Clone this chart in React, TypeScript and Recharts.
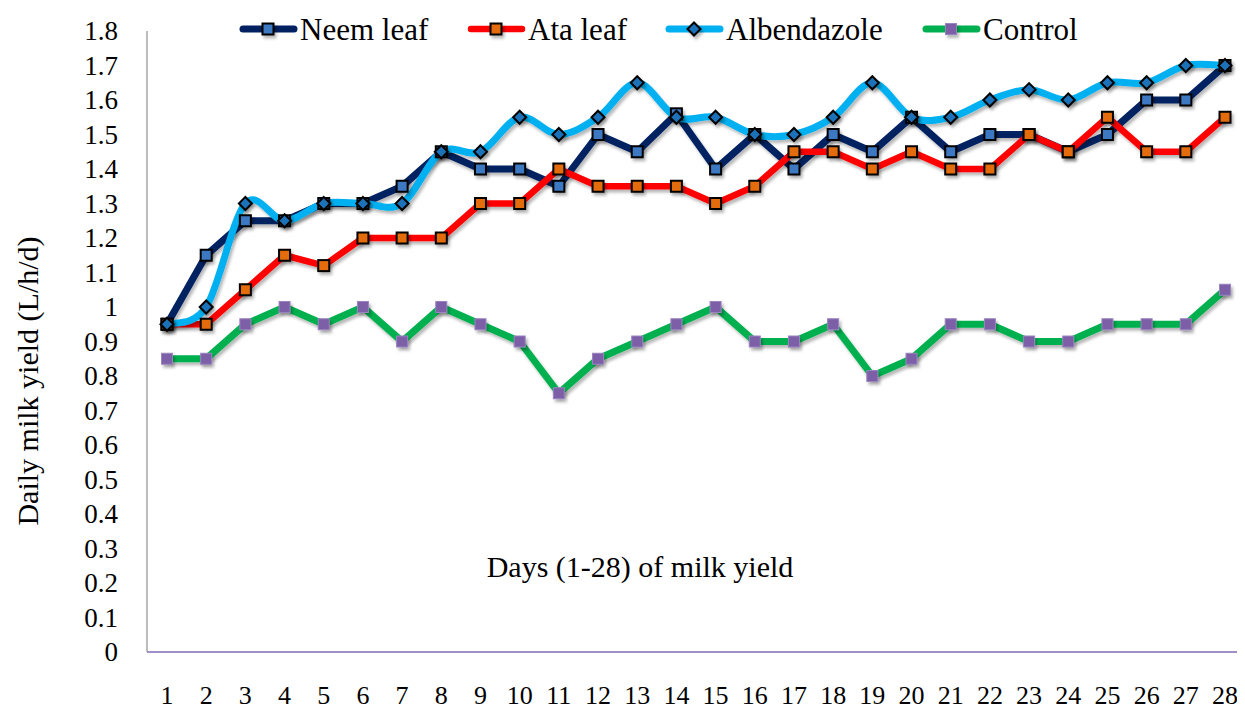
import { LineChart, Line, XAxis, YAxis } from "recharts";

const days = ["1", "2", "3", "4", "5", "6", "7", "8", "9", "10", "11", "12", "13", "14",
  "15", "16", "17", "18", "19", "20", "21", "22", "23", "24", "25", "26", "27", "28"];

const neemLeaf = [0.95, 1.15, 1.25, 1.25, 1.3, 1.3, 1.35, 1.45, 1.4, 1.4, 1.35, 1.5, 1.45, 1.56,
  1.4, 1.5, 1.4, 1.5, 1.45, 1.55, 1.45, 1.5, 1.5, 1.45, 1.5, 1.6, 1.6, 1.7];
const ataLeaf = [0.95, 0.95, 1.05, 1.15, 1.12, 1.2, 1.2, 1.2, 1.3, 1.3, 1.4, 1.35, 1.35, 1.35,
  1.3, 1.35, 1.45, 1.45, 1.4, 1.45, 1.4, 1.4, 1.5, 1.45, 1.55, 1.45, 1.45, 1.55];
const albendazole = [0.95, 1.0, 1.3, 1.25, 1.3, 1.3, 1.3, 1.45, 1.45, 1.55, 1.5, 1.55, 1.65, 1.55,
  1.55, 1.5, 1.5, 1.55, 1.65, 1.55, 1.55, 1.6, 1.63, 1.6, 1.65, 1.65, 1.7, 1.7];
const control = [0.85, 0.85, 0.95, 1.0, 0.95, 1.0, 0.9, 1.0, 0.95, 0.9, 0.75, 0.85, 0.9, 0.95,
  1.0, 0.9, 0.9, 0.95, 0.8, 0.85, 0.95, 0.95, 0.9, 0.9, 0.95, 0.95, 0.95, 1.05];

const yTicks = [0, 0.1, 0.2, 0.3, 0.4, 0.5, 0.6, 0.7, 0.8, 0.9, 1, 1.1, 1.2, 1.3, 1.4, 1.5, 1.6, 1.7, 1.8];

const data = days.map((d, i) => ({
  day: d,
  neem: neemLeaf[i],
  ata: ataLeaf[i],
  albendazole: albendazole[i],
  control: control[i],
}));

const FONT = "'Liberation Serif', 'Times New Roman', serif";

// Excel-like smoothed line (catmull-rom through every point)
function smoothCurve(context: any) {
  let xs: number[] = [];
  let ys: number[] = [];
  return {
    areaStart() {},
    areaEnd() {},
    lineStart() {
      xs = [];
      ys = [];
    },
    point(x: number, y: number) {
      xs.push(+x);
      ys.push(+y);
    },
    lineEnd() {
      const n = xs.length;
      if (!n) return;
      context.moveTo(xs[0], ys[0]);
      for (let i = 0; i < n - 1; i++) {
        const x0 = xs[Math.max(i - 1, 0)], y0 = ys[Math.max(i - 1, 0)];
        const x3 = xs[Math.min(i + 2, n - 1)], y3 = ys[Math.min(i + 2, n - 1)];
        const c1x = xs[i] + (xs[i + 1] - x0) / 6;
        const c1y = ys[i] + (ys[i + 1] - y0) / 6;
        const c2x = xs[i + 1] - (x3 - xs[i]) / 6;
        const c2y = ys[i + 1] - (y3 - ys[i]) / 6;
        context.bezierCurveTo(c1x, c1y, c2x, c2y, xs[i + 1], ys[i + 1]);
      }
    },
  };
}

function squareDot(fill: string, stroke: string, sw: number, size = 11) {
  return (props: any) => {
    const { cx, cy, index } = props;
    if (cx == null || cy == null) return null;
    return (
      <rect
        key={`sq-${fill}-${index}`}
        x={cx - size / 2}
        y={cy - size / 2}
        width={size}
        height={size}
        fill={fill}
        stroke={stroke}
        strokeWidth={sw}
        filter="url(#soft-shadow)"
      />
    );
  };
}

function diamondDot(props: any) {
  const { cx, cy, index } = props;
  if (cx == null || cy == null) return null;
  const r = 6.5;
  return (
    <path
      key={`dm-${index}`}
      d={`M${cx},${cy - r} L${cx + r},${cy} L${cx},${cy + r} L${cx - r},${cy} Z`}
      fill="#1f72b8"
      stroke="#000"
      strokeWidth={2}
      filter="url(#soft-shadow)"
    />
  );
}

const series = [
  { key: "neem", name: "Neem leaf", color: "#002060", width: 7, dot: squareDot("#3d78c2", "#000", 2) },
  { key: "ata", name: "Ata leaf", color: "#ff0000", width: 6.5, dot: squareDot("#e46c0a", "#000", 2) },
  { key: "albendazole", name: "Albendazole", color: "#00b0f0", width: 7, dot: diamondDot },
  { key: "control", name: "Control", color: "#00b050", width: 7, dot: squareDot("#7d5fa8", "#9a84c0", 1) },
];

// legend item positions (chart coords)
const legendX = [232, 460, 658, 915];

function renderXTick(props: any) {
  const { x, payload } = props;
  return (
    <text x={x} y={696} textAnchor="middle" fontSize={26} fontFamily={FONT} fill="#000">
      {payload.value}
    </text>
  );
}

function renderYTick(props: any) {
  const { y, payload } = props;
  return (
    <text x={110} y={y} dy="0.35em" textAnchor="end" fontSize={27} fontFamily={FONT} fill="#000">
      {String(Number(Number(payload.value).toFixed(1)))}
    </text>
  );
}

export default function App() {
  return (
    <div style={{ position: "relative", width: 1237, height: 701 }}>
      <LineChart width={1237} height={701} data={data} margin={{ top: 23, right: 0, left: 0, bottom: 0 }}>
        <XAxis
          dataKey="day"
          height={57}
          interval={0}
          padding={{ left: 20, right: 20 }}
          axisLine={{ stroke: "#a08fc6", strokeWidth: 2 }}
          tickLine={false}
          tick={renderXTick}
          label={{
            content: () => (
              <text x={632} y={569} textAnchor="middle" fontSize={30} fontFamily={FONT} fill="#000">
                Days (1-28) of milk yield
              </text>
            ),
          }}
        />
        <YAxis
          width={139}
          domain={[0, 1.8]}
          ticks={yTicks}
          interval={0}
          axisLine={{ stroke: "#a6a6a6", strokeWidth: 1.5 }}
          tickLine={false}
          tick={renderYTick}
          label={{
            content: () => (
              <text
                x={0}
                y={0}
                transform="translate(30 373) rotate(-90)"
                textAnchor="middle"
                fontSize={30}
                fontFamily={FONT}
                fill="#000"
              >
                Daily milk yield (L/h/d)
              </text>
            ),
          }}
        />
        {series.map((s) => (
          <Line
            key={s.key}
            dataKey={s.key}
            name={s.name}
            type={s.key === "albendazole" ? (smoothCurve as any) : "linear"}
            stroke={s.color}
            strokeWidth={s.width}
            strokeLinejoin="round"
            strokeLinecap="round"
            filter="url(#soft-shadow)"
            dot={s.dot}
            activeDot={false}
            isAnimationActive={false}
          />
        ))}
      </LineChart>

      {/* legend overlay + shared shadow filter */}
      <svg
        width={1237}
        height={50}
        style={{ position: "absolute", left: 0, top: 0, pointerEvents: "none", overflow: "visible" }}
      >
        <defs>
          <filter id="soft-shadow" filterUnits="userSpaceOnUse" x={0} y={0} width={1300} height={800}>
            <feDropShadow dx={2} dy={3} stdDeviation={1.6} floodColor="#000" floodOpacity={0.28} />
          </filter>
        </defs>
        {series.map((s, i) => {
          const x0 = legendX[i];
          const mid = x0 + 28;
          const Dot = s.dot as any;
          return (
            <g key={s.key}>
              <line x1={x0 + 3} y1={21} x2={x0 + 54} y2={21} stroke={s.color} strokeWidth={s.width} strokeLinecap="round" />
              {Dot({ cx: mid, cy: 21, index: 100 + i })}
              <text x={x0 + 60} y={32} fontSize={31} fontFamily={FONT} fill="#000">
                {s.name}
              </text>
            </g>
          );
        })}
      </svg>
    </div>
  );
}
